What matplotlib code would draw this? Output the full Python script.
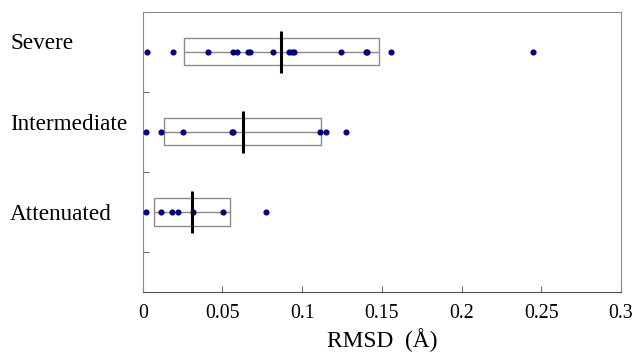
import numpy as np
import matplotlib.pyplot as plt

plt.rcParams['font.family'] = ['Liberation Serif', 'DejaVu Serif']

# === Data (RMSD in Angstrom) ===
groups = ['Attenuated', 'Intermediate', 'Severe']
attenuated = [0.0021, 0.0113, 0.0186, 0.0223, 0.0317, 0.0505, 0.0773]
intermediate = [0.0021, 0.0113, 0.0251, 0.0558, 0.0564, 0.1112, 0.1149, 0.1275]
severe = [0.0029, 0.0192, 0.0411, 0.0564, 0.0593, 0.0662, 0.0673, 0.0815,
          0.0917, 0.0934, 0.0950, 0.1241, 0.1398, 0.1404, 0.1555, 0.2449]
q1 = [0.0073, 0.0135, 0.0261]
q3 = [0.0547, 0.1118, 0.1483]
median = [0.0311, 0.0627, 0.0867]
xticks = [0, 0.05, 0.1, 0.15, 0.2, 0.25, 0.3]
xticklabels = ['0', '0.05', '0.1', '0.15', '0.2', '0.25', '0.3']

values = [attenuated, intermediate, severe]
ypos = np.arange(1, len(groups) + 1)

fig = plt.figure(figsize=(6.34, 3.56), dpi=100)
ax = fig.add_axes([0.2251, 0.1798, 0.7544, 0.7874])

# boxes
for y, a, b, m in zip(ypos, q1, q3, median):
    ax.barh(y, b - a, left=a, height=0.34, facecolor='none',
            edgecolor='#8a8a8a', linewidth=1.0, zorder=2)
    ax.hlines(y, a, b, color='#8a8a8a', linewidth=1.0, zorder=2)
    ax.vlines(m, y - 0.26, y + 0.26, color='black', linewidth=2.2, zorder=4)

# points
for y, vals in zip(ypos, values):
    ax.plot(vals, [y] * len(vals), 'o', color='#000080', markersize=3.4,
            linestyle='none', zorder=3)

ax.set_xlim(0, 0.3)
ax.set_ylim(0, 3.5)
ax.set_xticks(xticks)
ax.set_xticklabels(xticklabels, fontsize=14.3)
ax.set_yticks([0.5, 1.5, 2.5])
ax.set_yticklabels([])
ax.tick_params(direction='in', length=4, color='#707070', pad=9)
ax.set_xlabel('RMSD  (Å)', fontsize=16.8, labelpad=3)

for s in ['top', 'right', 'left']:
    ax.spines[s].set_color('#8a8a8a')
ax.spines['bottom'].set_color('#505050')

for y, name, dy in zip(ypos, groups, [-0.03, 0.09, 0.1]):
    ax.text(-0.2774, y + dy, name, transform=ax.get_yaxis_transform(),
            ha='left', va='center', fontsize=16.7)

fig.savefig('out.png', dpi=100)
